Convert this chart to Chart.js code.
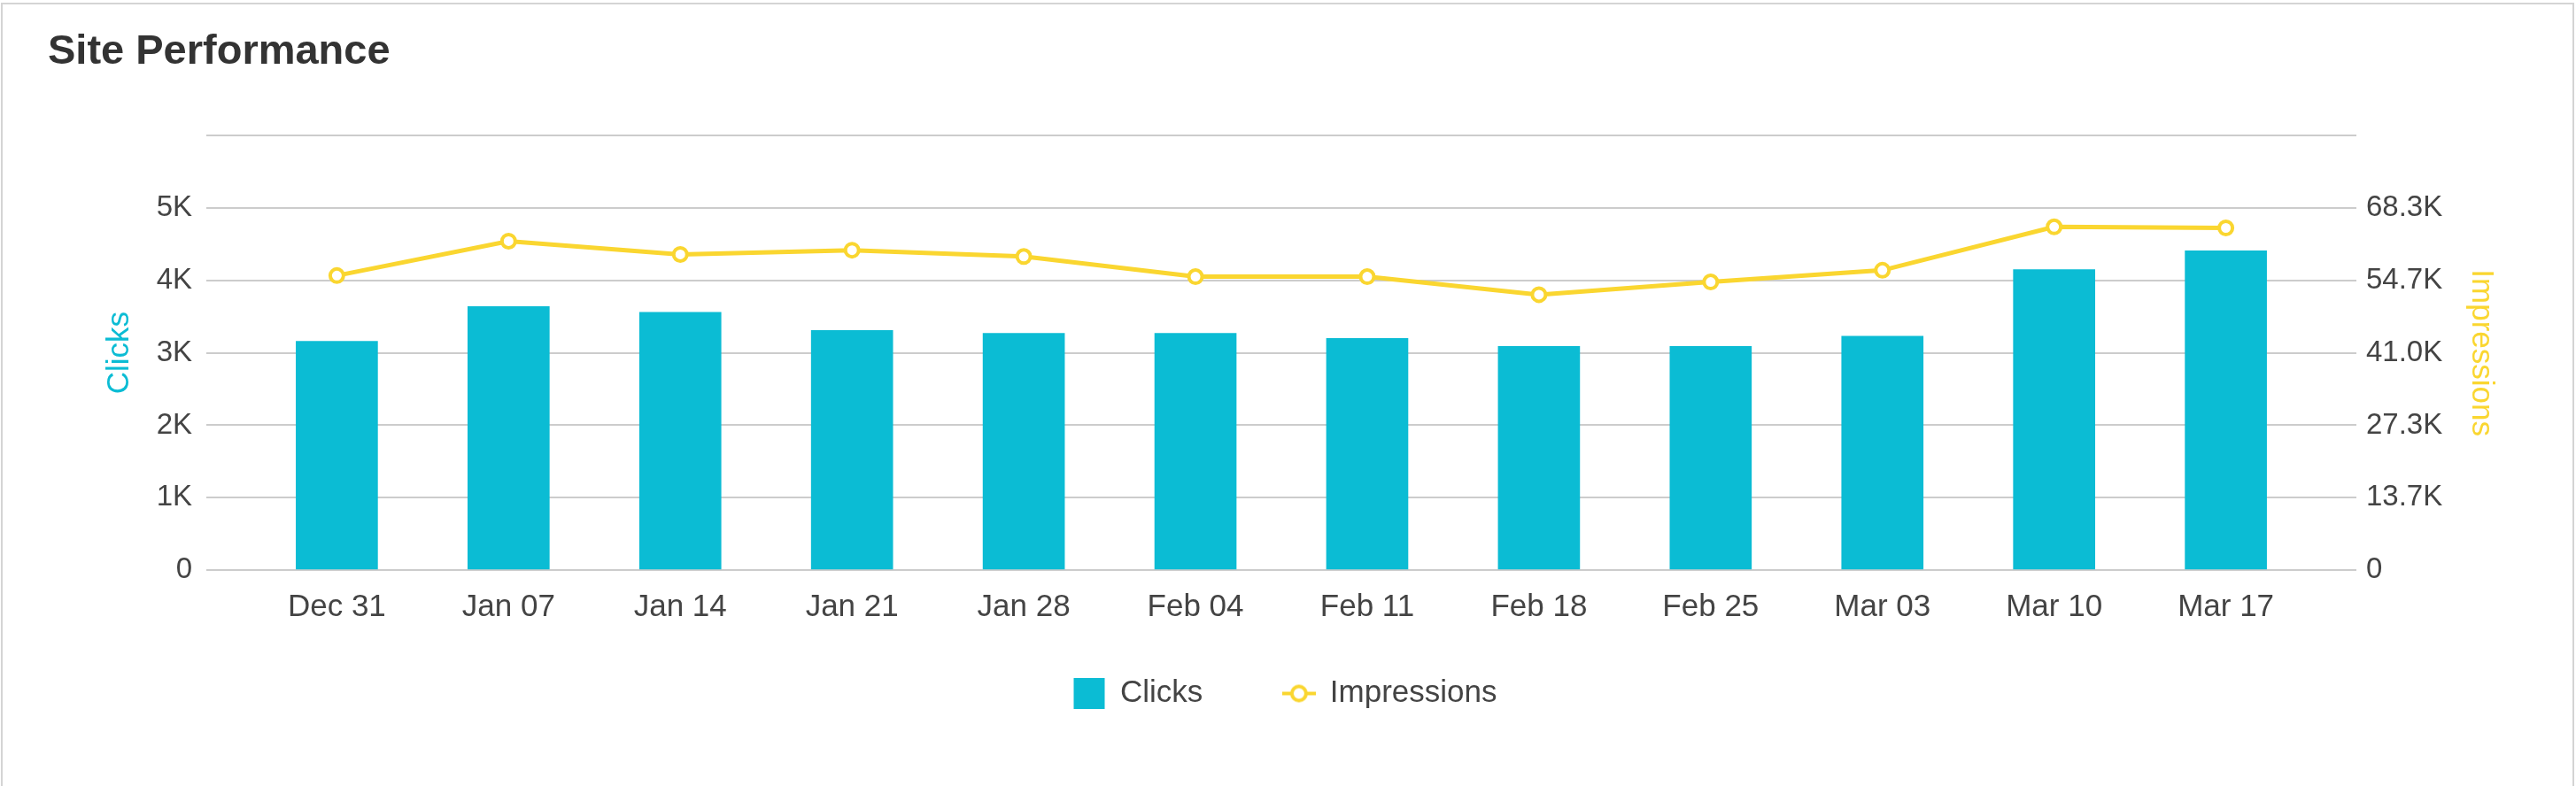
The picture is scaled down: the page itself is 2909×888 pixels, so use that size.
<!DOCTYPE html>
<html>
<head>
<meta charset="utf-8">
<title>Site Performance</title>
<script src="https://cdn.jsdelivr.net/npm/chart.js@4/dist/chart.umd.min.js"></script>
<style>
  html, body { margin: 0; padding: 0; background: #fff; overflow: hidden; }
  #card {
    position: absolute; left: 1px; top: 3px; width: 2906px; height: 900px;
    box-sizing: border-box; border: 2px solid #d4d4d4; background: #fff;
  }
  #wrap { position: absolute; left: 0; top: 0; width: 2909px; height: 888px; }
</style>
</head>
<body>
<div id="card"></div>
<div id="wrap"><canvas id="perfChart"></canvas></div>
<script>
// weekly values
const weeks = ['Dec 31', 'Jan 07', 'Jan 14', 'Jan 21', 'Jan 28', 'Feb 04',
               'Feb 11', 'Feb 18', 'Feb 25', 'Mar 03', 'Mar 10', 'Mar 17'];
const clicks = [3160, 3640, 3560, 3310, 3270, 3270, 3200, 3090, 3090, 3230, 4150, 4410];
const impressions = [55600, 62100, 59600, 60400, 59200, 55400, 55400, 52000, 54400, 56600, 64800, 64600];

const clickTicks = ['0', '1K', '2K', '3K', '4K', '5K', ''];
const impressionTicks = ['0', '13.7K', '27.3K', '41.0K', '54.7K', '68.3K', ''];

const CYAN = '#0bbcd4';
const YELLOW = '#fad630';

Chart.defaults.font.family = '"Liberation Sans", Arial, sans-serif';
Chart.defaults.color = '#444';

// little line-with-circle marker for the legend
function lineMarker() {
    const c = document.createElement('canvas');
    c.width = 38; c.height = 26;
    const g = c.getContext('2d');
    g.strokeStyle = YELLOW;
    g.lineWidth = 4;
    g.beginPath(); g.moveTo(0, 13); g.lineTo(38, 13); g.stroke();
    g.beginPath(); g.arc(19, 13, 8, 0, Math.PI * 2);
    g.fillStyle = '#fff'; g.fill();
    g.lineWidth = 4; g.stroke();
    return c;
}
const marker = lineMarker();

// the legend sits closer to the axis than its big item padding would allow
const legendLift = {
    id: 'legendLift',
    afterLayout(chart) {
        const lg = chart.legend;
        if (!lg) return;
        lg.top -= 53;
        lg.bottom -= 53;
    }
};

const ctx = document.getElementById('perfChart').getContext('2d');
new Chart(ctx, {
    data: {
        datasets: [
            {
                type: 'bar',
                label: 'Clicks',
                data: clicks.map((v, i) => ({x: i, y: v})),
                backgroundColor: CYAN,
                borderWidth: 0,
                barThickness: 92,
                yAxisID: 'y',
                pointStyle: 'rect'
            },
            {
                type: 'line',
                label: 'Impressions',
                data: impressions.map((v, i) => ({x: i, y: v})),
                borderColor: YELLOW,
                backgroundColor: YELLOW,
                borderWidth: 5,
                pointRadius: 7.5,
                pointHoverRadius: 7.5,
                pointBorderWidth: 4,
                pointBackgroundColor: '#fff',
                pointBorderColor: YELLOW,
                tension: 0,
                yAxisID: 'y1'
            }
        ]
    },
    plugins: [legendLift],
    options: {
        responsive: true,
        maintainAspectRatio: false,
        animation: false,
        layout: {padding: {left: 54, right: 60, top: 0, bottom: 24}},
        plugins: {
            tooltip: {enabled: false},
            title: {
                display: true,
                text: 'Site Performance',
                align: 'start',
                color: '#333',
                font: {size: 47, weight: 'bold'},
                padding: {top: 31, bottom: 66}
            },
            legend: {
                position: 'bottom',
                labels: {
                    usePointStyle: true,
                    font: {size: 35},
                    color: '#444',
                    padding: 91,
                    generateLabels: (chart) => {
                        const items = Chart.defaults.plugins.legend.labels.generateLabels(chart);
                        items[0].pointStyle = 'rect';
                        items[1].pointStyle = marker;
                        return items;
                    }
                }
            }
        },
        scales: {
            x: {
                type: 'linear',
                min: -0.76,
                max: 11.76,
                offset: false,
                bounds: 'data',
                grid: {display: false, drawTicks: false, offset: false},
                border: {display: false},
                afterBuildTicks: (scale) => {
                    scale.ticks = weeks.map((_, i) => ({value: i}));
                },
                ticks: {
                    autoSkip: false,
                    maxRotation: 0,
                    padding: 21,
                    font: {size: 35},
                    color: '#444',
                    callback: (value) => weeks[value]
                }
            },
            y: {
                position: 'left',
                min: 0,
                max: 6000,
                grid: {color: '#cccccc', lineWidth: 2, drawTicks: false},
                border: {display: false},
                afterFit: (scale) => { scale.width = 179; },
                ticks: {
                    stepSize: 1000,
                    padding: 16,
                    font: {size: 33},
                    color: '#444',
                    callback: (value, index) => clickTicks[index]
                },
                title: {
                    display: true,
                    text: 'Clicks',
                    color: CYAN,
                    font: {size: 35},
                    padding: {top: 60, bottom: 0}
                }
            },
            y1: {
                position: 'right',
                min: 0,
                max: 82000,
                grid: {display: false, drawTicks: false},
                border: {display: false},
                afterFit: (scale) => { scale.width = 188; },
                ticks: {
                    count: 7,
                    padding: 11,
                    font: {size: 33},
                    color: '#444',
                    callback: (value, index) => impressionTicks[index]
                },
                title: {
                    display: true,
                    text: 'Impressions',
                    color: YELLOW,
                    font: {size: 35},
                    padding: {top: 26, bottom: 0}
                }
            }
        }
    }
});
</script>
</body>
</html>
